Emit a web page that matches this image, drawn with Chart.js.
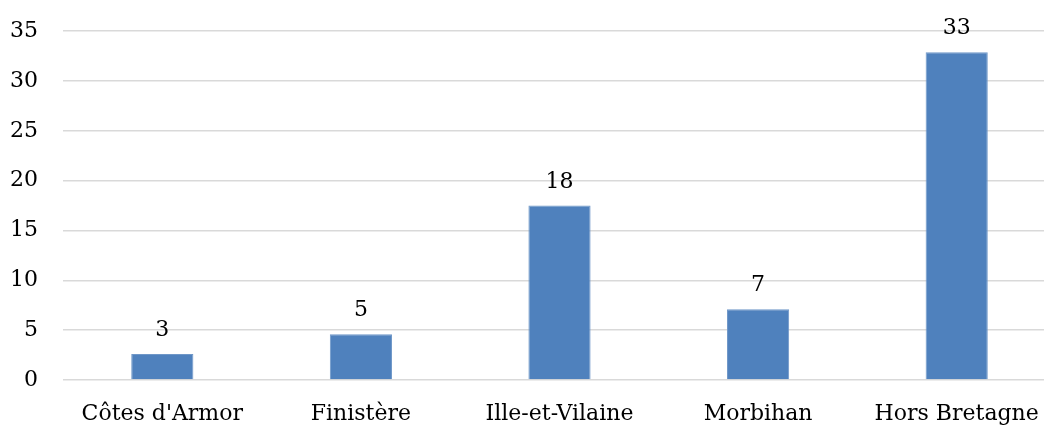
<!DOCTYPE html>
<html>
<head>
<meta charset="utf-8">
<script src="https://cdn.jsdelivr.net/npm/chart.js@4/dist/chart.umd.min.js"></script>
<style>
    html, body { margin: 0; padding: 0; background: #fff; overflow: hidden; }
    #wrap { position: relative; top: -7px; width: 1056px; height: 432px; }
</style>
</head>
<body>
<div id="wrap"><canvas id="chart"></canvas></div>
<script>
    var categories = ["Côtes d'Armor", "Finistère", "Ille-et-Vilaine", "Morbihan", "Hors Bretagne"];
    var values = [2.6, 4.6, 17.5, 7.1, 32.9];
    var yTicks = [0, 5, 10, 15, 20, 25, 30, 35];

    var fontFamily = "'DejaVu Serif', serif";

    // Write the rounded value above each bar
    var valueLabels = {
        id: 'valueLabels',
        afterDatasetsDraw: function(chart) {
            var ctx = chart.ctx;
            var meta = chart.getDatasetMeta(0);
            ctx.save();
            ctx.font = '22px ' + fontFamily;
            ctx.fillStyle = '#000';
            ctx.textAlign = 'center';
            ctx.textBaseline = 'alphabetic';
            for (var i = 0; i < meta.data.length; i++) {
                var bar = meta.data[i];
                ctx.fillText(String(Math.round(values[i])), bar.x, bar.y - 18);
            }
            ctx.restore();
        }
    };

    new Chart(document.getElementById('chart'), {
        type: 'bar',
        data: {
            labels: categories,
            datasets: [{
                data: values,
                backgroundColor: '#4F81BD',
                borderColor: '#6F97C8',
                borderWidth: 1,
                barPercentage: 0.313,
                categoryPercentage: 1
            }]
        },
        options: {
            responsive: true,
            maintainAspectRatio: false,
            animation: false,
            layout: { padding: 0 },
            plugins: {
                legend: { display: false },
                tooltip: { enabled: false }
            },
            scales: {
                x: {
                    grid: { display: false },
                    border: { display: false },
                    afterFit: function(axis) { axis.height = 45; },
                    ticks: {
                        color: '#000',
                        padding: 13,
                        font: { family: fontFamily, size: 22 },
                        maxRotation: 0,
                        autoSkip: false
                    }
                },
                y: {
                    min: 0,
                    max: 35,
                    afterBuildTicks: function(axis) {
                        axis.ticks = yTicks.map(function(v) { return { value: v }; });
                    },
                    afterFit: function(axis) { axis.width = 63; },
                    grid: { color: '#D9D9D9', lineWidth: 1.5, drawTicks: false },
                    border: { display: false },
                    ticks: {
                        color: '#000',
                        padding: 25,
                        font: { family: fontFamily, size: 22 }
                    }
                }
            }
        },
        plugins: [valueLabels]
    });
</script>
</body>
</html>
